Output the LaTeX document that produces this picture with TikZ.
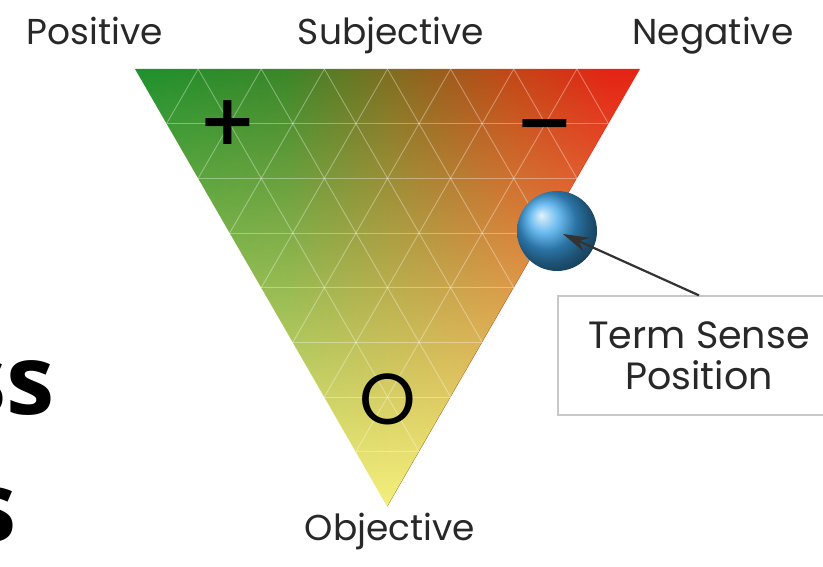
\documentclass[tikz,border=0pt]{standalone}
\usepackage{fontspec}
\setmainfont{Poppins}
\newfontfamily\signfont{DejaVu Sans}
\newfontfamily\slidefont{Open Sans}
\usetikzlibrary{calc,fadings,arrows.meta}
\definecolor{posgreen}{RGB}{30,145,45}
\definecolor{midolive}{RGB}{125,110,32}
\definecolor{negred}{RGB}{228,35,20}
\definecolor{objyellow}{RGB}{245,240,125}
\definecolor{labelgray}{RGB}{40,40,40}
\definecolor{ballblue}{RGB}{60,165,235}
\definecolor{boxgray}{RGB}{200,200,200}
\pgfdeclarehorizontalshading{sensehues}{100bp}{color(0bp)=(posgreen); color(25bp)=(posgreen);
  color(40bp)=(posgreen!70!midolive); color(50bp)=(midolive); color(62bp)=(midolive!40!negred!90!orange);
  color(72bp)=(negred); color(100bp)=(negred)}
\tikzfading[name=fadeup, top color=transparent!100, middle color=transparent!75, bottom color=transparent!0]
\tikzset{
  axislabel/.style={text=labelgray, anchor=base, font=\fontsize{36}{36}\selectfont},
  boldsign/.style={font=\signfont\bfseries\fontsize{70}{70}\selectfont},
  zero/.style={font=\fontsize{72}{72}\selectfont},
  termbox/.style={draw=boxgray, line width=1.2pt, fill=white, align=center, text=labelgray,
    inner sep=0pt, minimum width=282, minimum height=119, font=\fontsize{38}{41}\selectfont},
  pointer/.style={draw=black!80, line width=2.2pt, -{Stealth[length=26pt,width=15pt]}},
  gridline/.style={white, opacity=0.35, line width=0.9pt},
  slidetext/.style={anchor=base east, font=\slidefont\bfseries\fontsize{97}{97}\selectfont}
}
\begin{document}
\begin{tikzpicture}[x=1pt,y=1pt]
  \useasboundingbox (0,0) rectangle (823,567);
  \coordinate (P) at (135,498);
  \coordinate (N) at (640,498);
  \coordinate (O) at (387.5,60.7);
  \shade[shading=sensehues] (P) -- (N) -- (O) -- cycle;
  \fill[objyellow, path fading=fadeup] (P) -- (N) -- (O) -- cycle;
  \foreach \i in {1,...,7} {
    \draw[gridline] ($(P)!\i/8!(O)$) -- ($(N)!\i/8!(O)$);
    \draw[gridline] ($(P)!\i/8!(N)$) -- ($(O)!\i/8!(N)$);
    \draw[gridline] ($(N)!\i/8!(P)$) -- ($(O)!\i/8!(P)$);
  }

  \node[axislabel] (positive) at (95,522) {Positive};
  \node[axislabel] (subjective) at (391,522) {Subjective};
  \node[axislabel] (negative) at (713,522) {Negative};
  \node[axislabel] (objective) at (390,26) {Objective};

  \node[boldsign] (plus) at (228,444) {+};
  \node[boldsign] (minus) at (545,434) {−};
  \node[zero] (zeropt) at (388,168) {O};

  \node[circle, shading=ball, ball color=ballblue, minimum size=80, inner sep=0pt] (ball) at (557,336) {};
  \node[termbox] (sense) at (699,211.5) {Term Sense\\Position};
  \coordinate (tip) at (563,333);
  \draw[pointer] (sense.north) -- (tip);

  \node[slidetext] (cutss) at (58,152) {ss};
  \node[slidetext] (cuts) at (20,25) {s};
\end{tikzpicture}
\end{document}
